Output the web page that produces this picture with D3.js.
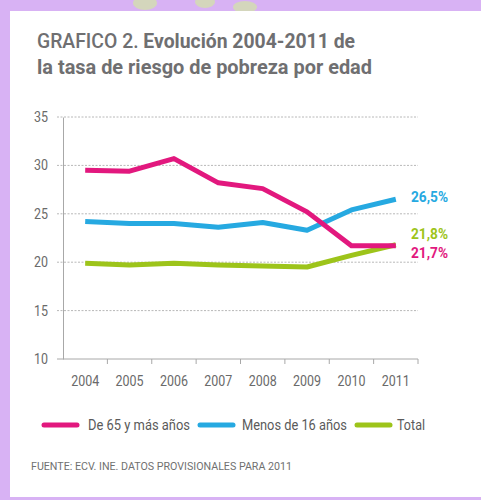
<!DOCTYPE html>
<html>
<head>
<meta charset="utf-8">
<script src="https://cdn.jsdelivr.net/npm/d3@7"></script>
<style>
    body { margin: 0; background: #d8b2f4; }
    svg { display: block; }
</style>
</head>
<body>
<svg id="chart" width="481" height="500"></svg>
<script>
const years = ["2004", "2005", "2006", "2007", "2008", "2009", "2010", "2011"];
const mayores65 = [29.5, 29.4, 30.7, 28.2, 27.6, 25.2, 21.7, 21.7];
const menores16 = [24.2, 24.0, 24.0, 23.6, 24.1, 23.3, 25.4, 26.5];
const total = [19.9, 19.7, 19.9, 19.7, 19.6, 19.5, 20.7, 21.8];
const yTicks = [10, 15, 20, 25, 30, 35];
const endLabels = ["21,7%", "26,5%", "21,8%"];
const seriesNames = ["De 65 y más años", "Menos de 16 años", "Total"];

const COLORS = ["#e2187e", "#26a9e1", "#9dc41a"];
const FONT = "'Roboto', sans-serif";

let svg = d3.select("#chart");

// purple page + white card
svg.append('rect').attr('width', 481).attr('height', 500).attr('fill', '#d8b2f4');
let blobs = [[145, 3, 12, 7], [205, 2, 10, 6], [245, 7, 12, 6]];
blobs.forEach(b => svg.append('ellipse')
    .attr('cx', b[0]).attr('cy', b[1]).attr('rx', b[2]).attr('ry', b[3])
    .attr('fill', '#d3e6a4').attr('opacity', 0.7));
svg.append('rect')
    .attr('x', 10).attr('y', 11)
    .attr('width', 480).attr('height', 486)
    .attr('fill', '#ffffff');

// title
let title = svg.append('g').attr('fill', '#6f6f71').style('font-family', FONT);
let t1 = title.append('text').attr('x', 37).attr('y', 48)
    .attr('font-size', 21)
    .attr('textLength', 318).attr('lengthAdjust', 'spacingAndGlyphs');
t1.append('tspan').attr('font-weight', 500).text('GRAFICO 2. ');
t1.append('tspan').attr('font-weight', 'bold').text('Evolución 2004-2011 de');
title.append('text').attr('x', 37).attr('y', 74)
    .attr('font-size', 21).attr('font-weight', 'bold')
    .attr('textLength', 335).attr('lengthAdjust', 'spacingAndGlyphs')
    .text('la tasa de riesgo de pobreza por edad');

// scales
let x = d3.scaleBand().domain(years).range([63, 418]);
let y = d3.scaleLinear().domain([10, 35]).range([359, 117]);

// grid
svg.append('g').selectAll('line').data(yTicks.filter(t => t > 10)).enter()
    .append('line')
    .attr('x1', 57).attr('x2', 418)
    .attr('y1', d => y(d)).attr('y2', d => y(d))
    .attr('stroke', '#b8b8b8')
    .attr('stroke-width', 1)
    .attr('stroke-dasharray', '2,1.5');

// y axis
let yAxis = svg.append('g')
    .attr('transform', 'translate(63,0)')
    .call(d3.axisLeft(y).tickValues(yTicks).tickSize(0).tickPadding(15));
yAxis.select('.domain').attr('stroke', '#a8a8a8');
yAxis.selectAll('text')
    .attr('fill', '#6a6a6a')
    .attr('textLength', 14).attr('lengthAdjust', 'spacingAndGlyphs')
    .style('font-family', FONT)
    .style('font-size', '14px');

// x axis
let xAxis = svg.append('g')
    .attr('transform', 'translate(0,359)')
    .call(d3.axisBottom(x).tickSize(0).tickPadding(17));
xAxis.select('.domain').attr('stroke', '#a8a8a8').attr('d', 'M57,0H418');
xAxis.selectAll('text')
    .attr('fill', '#6a6a6a')
    .attr('textLength', 28).attr('lengthAdjust', 'spacingAndGlyphs')
    .style('font-family', FONT)
    .style('font-size', '14px');
xAxis.selectAll('.tick line').remove();
xAxis.append('g').selectAll('line').data(years.slice(1).concat(['end'])).enter()
    .append('line')
    .attr('x1', d => d == 'end' ? 418 : x(d))
    .attr('x2', d => d == 'end' ? 418 : x(d))
    .attr('y1', 0).attr('y2', 5)
    .attr('stroke', '#a8a8a8');

// lines
let line = d3.line()
    .x((d, i) => x(years[i]) + x.bandwidth() / 2)
    .y(d => y(d));

let series = [total, menores16, mayores65];
let seriesColors = [COLORS[2], COLORS[1], COLORS[0]];
series.forEach((s, i) => {
    svg.append('path')
        .attr('d', line(s))
        .attr('fill', 'none')
        .attr('stroke', seriesColors[i])
        .attr('stroke-width', 5)
        .attr('stroke-linejoin', 'round');
});

// end labels
let labelPos = [[mayores65, 253, COLORS[0], endLabels[0]],
                [menores16, 197, COLORS[1], endLabels[1]],
                [total, 234, COLORS[2], endLabels[2]]];
labelPos.forEach(l => {
    svg.append('text')
        .attr('x', 411).attr('y', l[1])
        .attr('dy', '0.35em')
        .attr('fill', l[2])
        .attr('font-weight', 'bold')
        .attr('textLength', 37).attr('lengthAdjust', 'spacingAndGlyphs')
        .style('font-family', FONT)
        .style('font-size', '14px')
        .text(l[3]);
});

// legend
let legendX = [[44, 88, 102], [200, 242, 105], [357, 397, 28]];
let legend = svg.append('g');
seriesNames.forEach((name, i) => {
    legend.append('line')
        .attr('x1', legendX[i][0]).attr('x2', legendX[i][0] + 33)
        .attr('y1', 425).attr('y2', 425)
        .attr('stroke', COLORS[i])
        .attr('stroke-width', 5)
        .attr('stroke-linecap', 'round');
    legend.append('text')
        .attr('x', legendX[i][1]).attr('y', 425)
        .attr('dy', '0.35em')
        .attr('fill', '#5a5a5a')
        .attr('textLength', legendX[i][2]).attr('lengthAdjust', 'spacingAndGlyphs')
        .style('font-family', FONT)
        .style('font-size', '14px')
        .text(name);
});

// source
svg.append('text')
    .attr('x', 31).attr('y', 466)
    .attr('dy', '0.35em')
    .attr('fill', '#707070')
    .attr('textLength', 261).attr('lengthAdjust', 'spacingAndGlyphs')
    .style('font-family', FONT)
    .style('font-size', '11px')
    .text('FUENTE: ECV. INE. DATOS PROVISIONALES PARA 2011');
</script>
</body>
</html>
